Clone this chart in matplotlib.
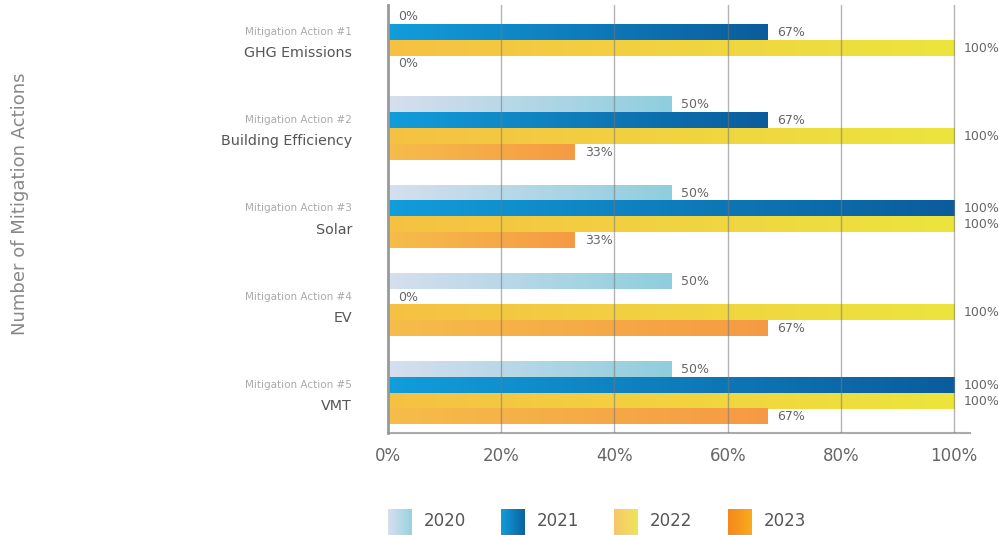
import matplotlib.pyplot as plt
import numpy as np
from matplotlib.colors import LinearSegmentedColormap

# data
actions = ["GHG Emissions", "Building Efficiency", "Solar", "EV", "VMT"]
action_nums = ["Mitigation Action #1", "Mitigation Action #2", "Mitigation Action #3",
               "Mitigation Action #4", "Mitigation Action #5"]
years = ["2020", "2021", "2022", "2023"]
v2020 = [0, 50, 50, 50, 50]
v2021 = [67, 67, 100, 0, 100]
v2022 = [100, 100, 100, 100, 100]
v2023 = [0, 33, 33, 67, 67]
series = [v2020, v2021, v2022, v2023]
ticks = [0, 20, 40, 60, 80, 100]

grads = [("#d6dfee", "#8fcedd"), ("#129ddb", "#0b5c9c"),
         ("#f6c143", "#ece53d"), ("#f6bd4a", "#f59a44")]
legend_grads = [("#d6dfee", "#98d3e0"), ("#129ddb", "#0b62a0"),
                ("#f7c66a", "#f0e55a"), ("#f5871f", "#f8ac1b")]

fig = plt.figure(figsize=(9.98, 5.35), dpi=100)
ax = fig.add_axes([0.3888, 0.1907, 0.5832, 0.80])

step = 0.178
h = 0.170
grad = np.linspace(0, 1, 256).reshape(1, -1)
for j, vals in enumerate(series):
    cmap = LinearSegmentedColormap.from_list("g%d" % j, grads[j])
    for i, v in enumerate(vals):
        yc = i + (j - 1.5) * step
        if v > 0:
            ax.imshow(grad, extent=(0, v / 100, yc + h / 2, yc - h / 2),
                      aspect="auto", cmap=cmap, zorder=2, interpolation="bilinear")
        ax.annotate("%d%%" % v, (v / 100, yc), xytext=(7, 0), textcoords="offset points",
                    va="center", ha="left", fontsize=9, color="#666666")

ax.set_xlim(0, 1.028)
ax.set_ylim(4.45, -0.40)
ax.set_aspect("auto")

for t in ticks[1:]:
    ax.axvline(t / 100, color="#777777", lw=1.0, alpha=0.55, zorder=3)

ax.set_xticks([t / 100 for t in ticks])
ax.set_xticklabels(["%d%%" % t for t in ticks], fontsize=12, color="#666666")
ax.tick_params(axis="x", length=0, pad=10)
ax.set_yticks([])
for s in ["top", "right"]:
    ax.spines[s].set_visible(False)
ax.spines["left"].set_color("#999999")
ax.spines["left"].set_linewidth(2)
ax.spines["left"].set_zorder(4)
ax.spines["bottom"].set_color("#aaaaaa")
ax.spines["bottom"].set_linewidth(1.5)

tr = ax.get_yaxis_transform()
for i in range(len(actions)):
    ax.text(-0.062, i - 0.095, action_nums[i], transform=tr, ha="right", va="center",
            fontsize=7.5, color="#aaaaaa")
    ax.text(-0.062, i + 0.145, actions[i], transform=tr, ha="right", va="center",
            fontsize=10.3, color="#555555")

fig.text(0.02, 0.62, "Number of Mitigation Actions", rotation=90, ha="center",
         va="center", fontsize=13, color="#888888")

# legend with gradient squares
lx = [0.389, 0.502, 0.615, 0.729]
for j, y in enumerate(years):
    lax = fig.add_axes([lx[j], 0.0, 0.024, 0.048])
    lax.imshow(grad, aspect="auto", cmap=LinearSegmentedColormap.from_list("l%d" % j, legend_grads[j]))
    lax.axis("off")
    fig.text(lx[j] + 0.036, 0.026, y, ha="left", va="center", fontsize=12, color="#555555")

fig.savefig("out.png", dpi=100)
